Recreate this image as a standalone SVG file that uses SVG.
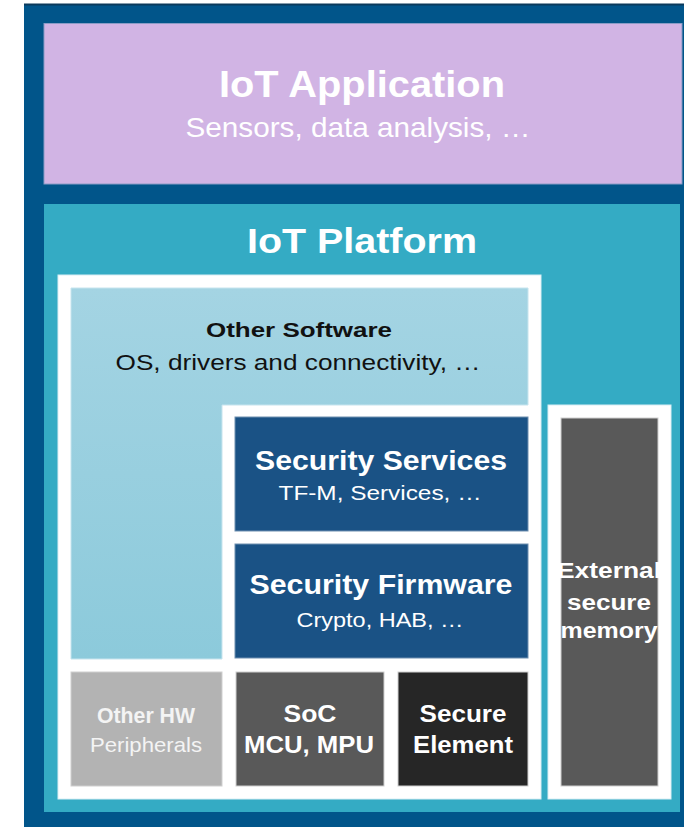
<svg xmlns="http://www.w3.org/2000/svg" width="684" height="827" viewBox="0 0 684 827">
  <defs>
    <linearGradient id="swGrad" x1="0" y1="0" x2="0" y2="1">
      <stop offset="0" stop-color="#a4d4e3"/>
      <stop offset="1" stop-color="#8ccadb"/>
    </linearGradient>
  </defs>
  <style>
    text { font-family: "Liberation Sans", Arial, sans-serif; text-anchor: middle; }
    .b { font-weight: bold; }
    .w { fill: #ffffff; }
    .k { fill: #111111; }
    .sec { fill: #1a5285; stroke: #6f8fb0; stroke-width: 1; }
    .hw { stroke: #cfcfcf; stroke-width: 1; }
  </style>

  <g id="frame">
    <rect x="24" y="4" width="660" height="823" fill="#01558a"/>
    <line x1="24" y1="4.5" x2="684" y2="4.5" stroke="#0b3a5c" stroke-width="2"/>
  </g>

  <g id="iot-application">
    <rect x="44" y="23.5" width="638" height="160.5" fill="#d1b4e4" stroke="#8a9cc6" stroke-width="1"/>
    <text class="b w" x="362" y="97" font-size="36" textLength="286" lengthAdjust="spacingAndGlyphs">IoT Application</text>
    <text class="w" x="358" y="137" font-size="28" textLength="345" lengthAdjust="spacingAndGlyphs">Sensors, data analysis, …</text>
  </g>

  <g id="iot-platform">
    <rect x="44" y="204" width="636" height="608" fill="#34abc4"/>
    <text class="b w" x="362" y="253" font-size="35" textLength="230" lengthAdjust="spacingAndGlyphs">IoT Platform</text>
    <rect x="58" y="275" width="483" height="524" fill="#ffffff" stroke="#d8eef4" stroke-width="1"/>
  </g>

  <g id="other-software">
    <polygon points="71,288 528,288 528,405 222,405 222,659 71,659" fill="url(#swGrad)" stroke="#c6e4ee" stroke-width="1"/>
    <text class="b k" x="299" y="337" font-size="21" textLength="186" lengthAdjust="spacingAndGlyphs">Other Software</text>
    <text class="k" x="298" y="370" font-size="22" textLength="365" lengthAdjust="spacingAndGlyphs">OS, drivers and connectivity, …</text>
  </g>

  <g id="security-services">
    <rect class="sec" x="235" y="417" width="293" height="114"/>
    <text class="b w" x="381" y="470" font-size="28" textLength="252" lengthAdjust="spacingAndGlyphs">Security Services</text>
    <text class="w" x="380" y="500" font-size="21" textLength="203" lengthAdjust="spacingAndGlyphs">TF-M, Services,  …</text>
  </g>

  <g id="security-firmware">
    <rect class="sec" x="235" y="544" width="293" height="114"/>
    <text class="b w" x="381" y="594" font-size="28" textLength="263" lengthAdjust="spacingAndGlyphs">Security Firmware</text>
    <text class="w" x="380" y="627" font-size="21" textLength="167" lengthAdjust="spacingAndGlyphs">Crypto, HAB, …</text>
  </g>

  <g id="other-hw">
    <rect class="hw" x="71" y="672" width="151" height="114" fill="#b3b3b3"/>
    <text class="b" x="146" y="723" font-size="22" fill="#f4f4f4" textLength="98" lengthAdjust="spacingAndGlyphs">Other HW</text>
    <text x="146" y="752" font-size="21" fill="#f4f4f4" textLength="112" lengthAdjust="spacingAndGlyphs">Peripherals</text>
  </g>

  <g id="soc">
    <rect class="hw" x="236" y="672" width="148" height="114" fill="#595959"/>
    <text class="b w" x="310" y="722" font-size="23" textLength="53" lengthAdjust="spacingAndGlyphs">SoC</text>
    <text class="b w" x="309" y="753" font-size="23" textLength="130" lengthAdjust="spacingAndGlyphs">MCU, MPU</text>
  </g>

  <g id="secure-element">
    <rect class="hw" x="398" y="672" width="130" height="114" fill="#262626" stroke="#777777"/>
    <text class="b w" x="463" y="722" font-size="23" textLength="87" lengthAdjust="spacingAndGlyphs">Secure</text>
    <text class="b w" x="463" y="753" font-size="23" textLength="100" lengthAdjust="spacingAndGlyphs">Element</text>
  </g>

  <g id="external-secure-memory">
    <rect x="548" y="405" width="123" height="394" fill="#ffffff" stroke="#d8eef4" stroke-width="1"/>
    <rect class="hw" x="561" y="418" width="97" height="368" fill="#595959" stroke="#9a9a9a"/>
    <text class="b w" x="609" y="578" font-size="22" textLength="104" lengthAdjust="spacingAndGlyphs">External</text>
    <text class="b w" x="609" y="610" font-size="22" textLength="84" lengthAdjust="spacingAndGlyphs">secure</text>
    <text class="b w" x="609" y="638" font-size="22" textLength="97" lengthAdjust="spacingAndGlyphs">memory</text>
  </g>

  <g id="connectors"/>
</svg>
